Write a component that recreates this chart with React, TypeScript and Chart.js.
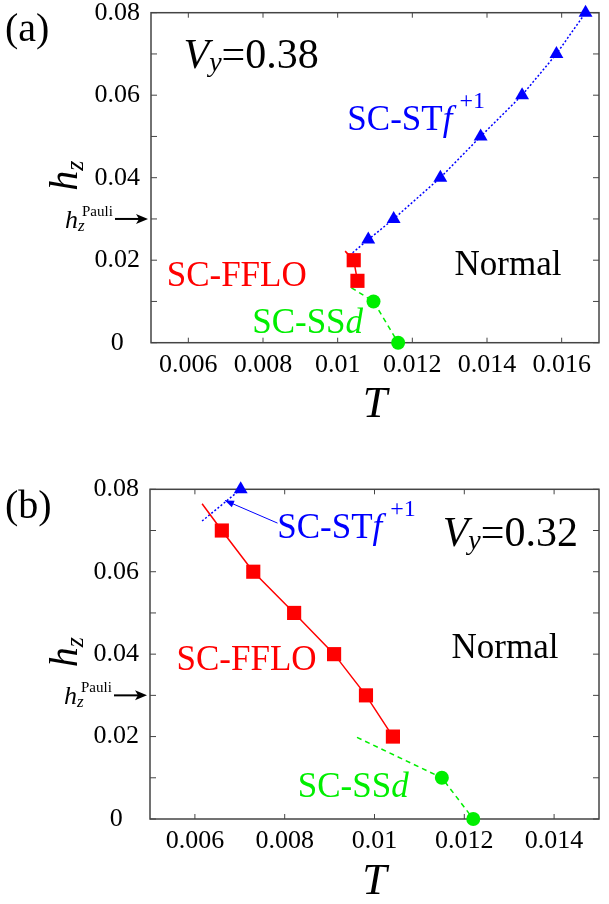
import React, { useEffect, useRef } from "react";
import { Chart, registerables } from "chart.js";

Chart.register(...registerables);

const SERIF = '"Liberation Serif", serif';
const BLUE = "#0000ff";
const RED = "#ff0000";
const GREEN = "#00ee00";
const FRAME = "#444444";

// shared hz axis
const hzTicks = [0, 0.01, 0.02, 0.03, 0.04, 0.05, 0.06, 0.07, 0.08];
const hzPauli = 0.03;

// Panel (a) Vy = 0.38  (first point of every series = extrapolated line end, no marker)
const aTTicks = [0.006, 0.008, 0.01, 0.012, 0.014, 0.016];
const aBlueT = [0.0104, 0.01082, 0.0115, 0.01275, 0.01383, 0.01494, 0.01586, 0.01664];
const aBlueH = [0.0218, 0.025, 0.03, 0.04, 0.05, 0.06, 0.07, 0.08];
const aRedT = [0.0102, 0.01043, 0.01053];
const aRedH = [0.0222, 0.02, 0.015];
const aGreenT = [0.01037, 0.01096, 0.01162];
const aGreenH = [0.0133, 0.01, 0];

// Panel (b) Vy = 0.32
const bTTicks = [0.006, 0.008, 0.01, 0.012, 0.014];
const bBlueT = [0.00616, 0.00702];
const bBlueH = [0.0723, 0.08];
const bRedT = [0.00616, 0.0066, 0.0073, 0.00821, 0.0091, 0.00981, 0.01041];
const bRedH = [0.0765, 0.07, 0.06, 0.05, 0.04, 0.03, 0.02];
const bGreenT = [0.00961, 0.0115, 0.0122];
const bGreenH = [0.0198, 0.01, 0];
const bArrowT = [0.00784, 0.00667];
const bArrowH = [0.0718, 0.0773];

type Run = { t: string; size: number; italic?: boolean; dy?: number; gap?: number };

function drawRuns(ctx: CanvasRenderingContext2D, x: number, y: number, runs: Run[], color: string) {
  ctx.fillStyle = color;
  ctx.textBaseline = "alphabetic";
  ctx.textAlign = "left";
  let cx = x;
  for (const r of runs) {
    ctx.font = `${r.italic ? "italic " : ""}${r.size}px ${SERIF}`;
    ctx.fillText(r.t, cx, y + (r.dy || 0));
    cx += ctx.measureText(r.t).width + (r.gap || 0);
  }
}

const fmt = (v: number) => (v === 0 ? "0" : String(Number(v.toFixed(4))));

const panels = [
  {
    key: "a",
    top: 0,
    height: 450,
    padTop: 12.7,
    padRight: 2,
    axisLeft: 151,
    xAxisH: 107.3,
    titlePad: 23,
    tMin: 0.005,
    tMax: 0.017,
    tTicks: aTTicks,
    tag: "(a)",
    tagY: 41,
    vy: "=0.38",
    blue: [aBlueT, aBlueH],
    red: [aRedT, aRedH],
    green: [aGreenT, aGreenH],
    arrow: null as null | number[][],
    at: {
      vy: [0.00587, 0.0666],
      st: [0.01026, 0.0516],
      fflo: [0.00542, 0.01375],
      ssd: [0.00771, 0.00235],
      normal: [0.01313, 0.0164],
    },
    supGap: 7,
  },
  {
    key: "b",
    top: 450,
    height: 454,
    padTop: 39.3,
    padRight: 0.3,
    axisLeft: 150,
    xAxisH: 85,
    titlePad: 0,
    tMin: 0.005,
    tMax: 0.015,
    tTicks: bTTicks,
    tag: "(b)",
    tagY: 68,
    vy: "=0.32",
    blue: [bBlueT, bBlueH],
    red: [bRedT, bRedH],
    green: [bGreenT, bGreenH],
    arrow: [bArrowT, bArrowH],
    at: {
      vy: [0.011518, 0.06618],
      st: [0.007834, 0.06812],
      fflo: [0.00559, 0.03612],
      ssd: [0.008292, 0.00533],
      normal: [0.011715, 0.03903],
    },
    supGap: 8,
  },
];

type P = (typeof panels)[number];

function series(s: number[][], color: string, dash: number[], style: string, radius: number) {
  const [T, H] = s;
  return {
    data: T.map((t, i) => ({ x: t, y: H[i] })),
    showLine: true,
    borderColor: color,
    backgroundColor: color,
    borderWidth: 1.5,
    borderDash: dash,
    pointStyle: style,
    pointRadius: (c: any) => (c.dataIndex === 0 ? 0 : radius),
    pointHoverRadius: 0,
    pointBorderWidth: 0,
    pointBackgroundColor: color,
    pointBorderColor: color,
    tension: 0,
    clip: false,
  };
}

function decor(p: P) {
  return {
    id: "decor" + p.key,
    beforeDatasetsDraw(chart: any) {
      const { ctx, chartArea: a, scales } = chart;
      const xs = scales.x;
      const ys = scales.y;
      ctx.save();
      ctx.strokeStyle = FRAME;
      ctx.lineWidth = 1;
      ctx.beginPath();
      for (const v of p.tTicks) {
        const px = xs.getPixelForValue(v);
        ctx.moveTo(px, a.bottom);
        ctx.lineTo(px, a.bottom - 5);
        ctx.moveTo(px, a.top);
        ctx.lineTo(px, a.top + 5);
      }
      for (const v of hzTicks) {
        const py = ys.getPixelForValue(v);
        ctx.moveTo(a.left, py);
        ctx.lineTo(a.left + 6, py);
        ctx.moveTo(a.right, py);
        ctx.lineTo(a.right - 6, py);
      }
      ctx.stroke();
      ctx.lineWidth = 1.5;
      ctx.strokeRect(a.left, a.top, a.right - a.left, a.bottom - a.top);
      ctx.restore();
    },
    afterDatasetsDraw(chart: any) {
      const { ctx, chartArea: a, scales } = chart;
      const xs = scales.x;
      const ys = scales.y;
      const P = (q: number[]) => [xs.getPixelForValue(q[0]), ys.getPixelForValue(q[1])];
      ctx.save();
      // panel tag
      drawRuns(ctx, 5, p.tagY, [{ t: p.tag, size: 40 }], "#000");
      // rotated axis title h_z
      ctx.save();
      ctx.translate(77, (a.top + a.bottom) / 2 + 13);
      ctx.rotate(-Math.PI / 2);
      drawRuns(ctx, 0, 0, [
        { t: "h", size: 40, italic: true },
        { t: "z", size: 26, italic: true, dy: 6 },
      ], "#000");
      ctx.restore();
      // h_z^Pauli arrow
      const y0 = ys.getPixelForValue(hzPauli);
      drawRuns(ctx, a.left - 86, y0 + 9, [
        { t: "h", size: 26, italic: true },
        { t: "z", size: 17, italic: true, dy: 3 },
      ], "#000");
      drawRuns(ctx, a.left - 69, y0 - 3, [{ t: "Pauli", size: 15 }], "#000");
      ctx.strokeStyle = "#000";
      ctx.fillStyle = "#000";
      ctx.lineWidth = 2;
      ctx.beginPath();
      ctx.moveTo(a.left - 36, y0);
      ctx.lineTo(a.left - 12, y0);
      ctx.stroke();
      ctx.beginPath();
      ctx.moveTo(a.left - 3, y0);
      ctx.lineTo(a.left - 15, y0 - 5);
      ctx.lineTo(a.left - 12, y0);
      ctx.lineTo(a.left - 15, y0 + 5);
      ctx.closePath();
      ctx.fill();
      // in-plot labels
      let q = P(p.at.vy);
      drawRuns(ctx, q[0], q[1], [
        { t: "V", size: 42, italic: true },
        { t: "y", size: 28, italic: true, dy: 3 },
        { t: p.vy, size: 42 },
      ], "#000");
      q = P(p.at.st);
      drawRuns(ctx, q[0], q[1], [
        { t: "SC-ST", size: 35 },
        { t: "f", size: 35, italic: true, gap: p.supGap },
        { t: "+1", size: 24, dy: -22 },
      ], BLUE);
      q = P(p.at.fflo);
      drawRuns(ctx, q[0], q[1], [{ t: "SC-FFLO", size: 35 }], RED);
      q = P(p.at.ssd);
      drawRuns(ctx, q[0], q[1], [
        { t: "SC-SS", size: 35 },
        { t: "d", size: 35, italic: true },
      ], GREEN);
      q = P(p.at.normal);
      drawRuns(ctx, q[0], q[1], [{ t: "Normal", size: 35 }], "#000");
      // pointer arrow to the SC-STf line
      if (p.arrow) {
        const s = P([p.arrow[0][0], p.arrow[1][0]]);
        const e = P([p.arrow[0][1], p.arrow[1][1]]);
        const ang = Math.atan2(e[1] - s[1], e[0] - s[0]);
        ctx.strokeStyle = BLUE;
        ctx.fillStyle = BLUE;
        ctx.lineWidth = 1;
        ctx.beginPath();
        ctx.moveTo(s[0], s[1]);
        ctx.lineTo(e[0], e[1]);
        ctx.stroke();
        const L = 9;
        const W = 3.5;
        ctx.beginPath();
        ctx.moveTo(e[0], e[1]);
        ctx.lineTo(e[0] - L * Math.cos(ang) + W * Math.sin(ang), e[1] - L * Math.sin(ang) - W * Math.cos(ang));
        ctx.lineTo(e[0] - L * Math.cos(ang) - W * Math.sin(ang), e[1] - L * Math.sin(ang) + W * Math.cos(ang));
        ctx.closePath();
        ctx.fill();
      }
      ctx.restore();
    },
  };
}

function Panel({ p }: { p: P }) {
  const ref = useRef<HTMLCanvasElement>(null);
  useEffect(() => {
    const canvas = ref.current!;
    const chart = new Chart(canvas, {
      type: "scatter",
      data: {
        datasets: [
          series(p.red, RED, [], "rect", 10),
          series(p.green, GREEN, [5, 4], "circle", 7),
          series(p.blue, BLUE, [2, 2], "triangle", 8),
        ] as any,
      },
      options: {
        responsive: false,
        animation: false,
        events: [],
        layout: { padding: { top: p.padTop, right: p.padRight, left: 0, bottom: 0 } },
        plugins: { legend: { display: false }, tooltip: { enabled: false } },
        scales: {
          x: {
            type: "linear",
            min: p.tMin,
            max: p.tMax,
            afterBuildTicks: (s: any) => {
              s.ticks = p.tTicks.map((v) => ({ value: v }));
            },
            afterFit: (s: any) => {
              s.height = p.xAxisH;
              s.paddingLeft = 0;
              s.paddingRight = 0;
            },
            grid: { display: false, drawTicks: false },
            border: { display: false },
            ticks: {
              autoSkip: false,
              maxRotation: 0,
              minRotation: 0,
              padding: 7,
              color: "#000",
              font: { family: SERIF, size: 26, lineHeight: 1.2 },
              callback: (v: any) => fmt(Number(v)),
            },
            title: {
              display: true,
              text: "T",
              color: "#000",
              font: { family: SERIF, size: 44, style: "italic", lineHeight: 1 },
              padding: { top: 0, bottom: p.titlePad },
            },
          },
          y: {
            type: "linear",
            min: 0,
            max: 0.08,
            afterBuildTicks: (s: any) => {
              s.ticks = hzTicks.map((v) => ({ value: v }));
            },
            afterFit: (s: any) => {
              s.width = p.axisLeft;
              s.paddingTop = 0;
              s.paddingBottom = 0;
            },
            grid: { display: false, drawTicks: false },
            border: { display: false },
            ticks: {
              autoSkip: false,
              padding: 11,
              crossAlign: "center",
              color: "#000",
              font: { family: SERIF, size: 26, lineHeight: 1.2 },
              callback: (v: any) => {
                const n = Number(v);
                return Math.round(n * 100) % 2 === 0 ? fmt(n) : "";
              },
            },
          },
        },
      } as any,
      plugins: [decor(p)],
    });
    return () => chart.destroy();
  }, []);
  return (
    <canvas
      ref={ref}
      width={609}
      height={p.height}
      style={{ position: "absolute", left: 0, top: p.top, width: 609, height: p.height }}
    />
  );
}

export default function App() {
  return (
    <div style={{ position: "fixed", left: 0, top: 0, width: 609, height: 904, background: "#fff", overflow: "hidden" }}>
      {panels.map((p) => (
        <Panel key={p.key} p={p} />
      ))}
    </div>
  );
}
